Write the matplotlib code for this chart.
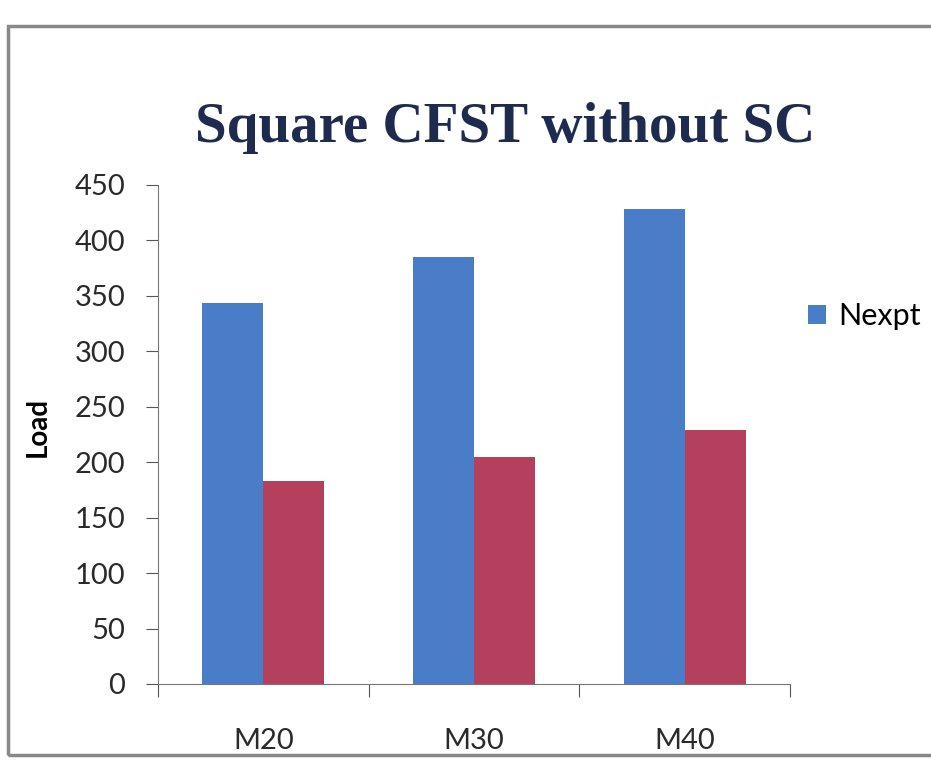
import numpy as np
import matplotlib.pyplot as plt
import matplotlib as mpl
from matplotlib.patches import Rectangle

mpl.rcParams['font.family'] = ['Lato', 'DejaVu Sans']

grades = ["M20", "M30", "M40"]
nexpt = [344, 385, 428]
other = [183, 205, 229]
yticks = [0, 50, 100, 150, 200, 250, 300, 350, 400, 450]

fig = plt.figure(figsize=(9.31, 7.61), dpi=100)
ax = fig.add_axes([0.1697, 0.1012, 0.679, 0.6557])

x = np.arange(len(grades))
w = 0.29
ax.bar(x - w / 2, nexpt, w, color="#4a7dc8", label="Nexpt")
ax.bar(x + w / 2, other, w, color="#b5405e")

ax.set_xlim(-0.5, 2.5)
ax.set_ylim(0, 450)
ax.set_yticks(yticks)
ax.tick_params(axis='y', labelsize=21, length=8.5, color="#555555", labelcolor="#2a2a2a", pad=15)

# category boundary ticks on x, labels centred on the groups
ax.set_xticks([-0.5, 0.5, 1.5, 2.5])
ax.set_xticklabels([])
ax.tick_params(axis='x', which='major', length=9, direction='out', color="#555555")
ax.set_xticks(x, minor=True)
ax.set_xticklabels(grades, minor=True)
ax.tick_params(axis='x', which='minor', length=0, labelsize=21, pad=32, labelcolor="#2a2a2a")

for s in ["top", "right"]:
    ax.spines[s].set_visible(False)
ax.spines["left"].set_color("#777777")
ax.spines["bottom"].set_color("#777777")

ax.set_ylabel("Load", fontsize=20, fontweight="bold")
ax.yaxis.set_label_coords(-0.17, 0.515)

fig.text(0.5425, 0.832, "Square CFST without SC", fontsize=41, fontweight="bold",
         family="Liberation Serif", color="#1f2a4f", ha="center", va="center")

ax.legend(loc="center left", bbox_to_anchor=(1.028, 0.737), frameon=False,
          borderpad=0, borderaxespad=0,
          fontsize=22, handlelength=0.6, handleheight=0.6, handletextpad=0.4)

# outer border of the chart area
fig.patches.append(Rectangle((0.009, 0.008), 1.2, 0.958, transform=fig.transFigure,
                             fill=False, edgecolor="#888888", linewidth=2.5))

plt.savefig("out.png", dpi=100)
